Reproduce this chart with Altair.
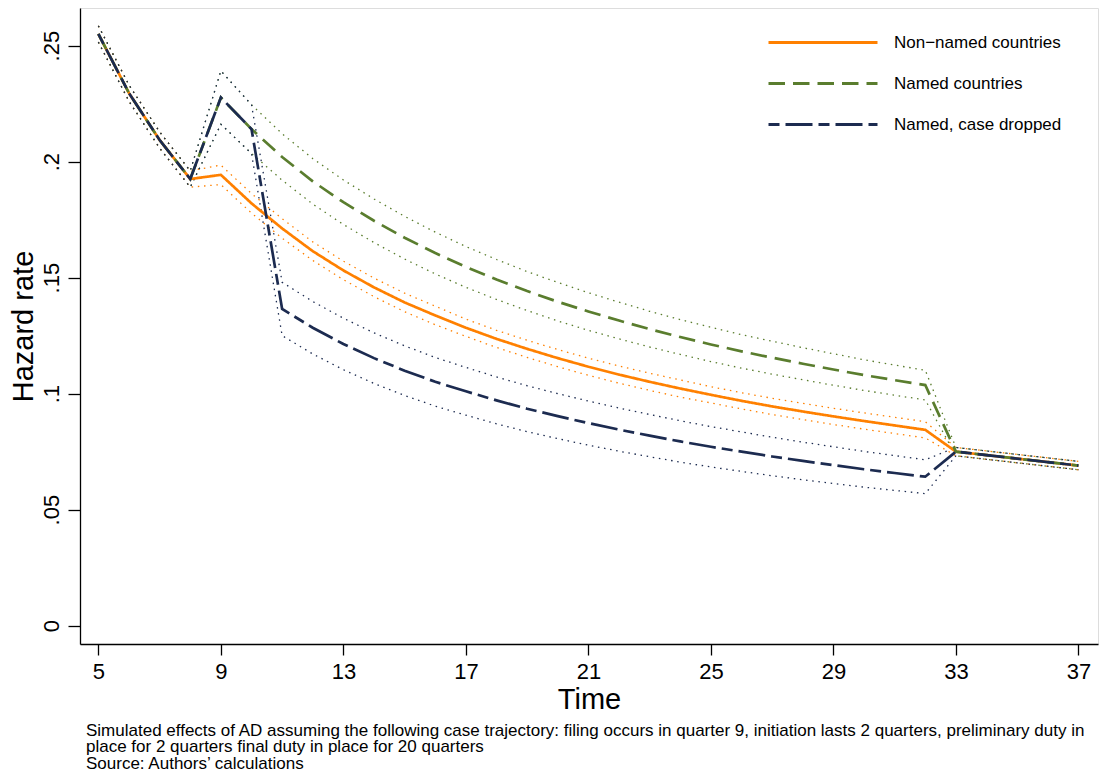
import altair as alt
import pandas as pd

# ---------------- data ----------------
time = [5, 6, 7, 8, 9, 10, 11, 12, 13, 14, 15, 16, 17, 18, 19, 20, 21,
        22, 23, 24, 25, 26, 27, 28, 29, 30, 31, 32, 33, 34, 35, 36, 37]

series_names = ["Non\u2212named countries", "Named countries", "Named, case dropped"]

nonnamed = [0.2550, 0.2295, 0.2093, 0.1925, 0.1943, 0.1820, 0.1712, 0.1614, 0.1531,
            0.1458, 0.1393, 0.1337, 0.1284, 0.1236, 0.1193, 0.1153, 0.1116, 0.1082,
            0.1051, 0.1022, 0.0995, 0.0969, 0.0945, 0.0923, 0.0902, 0.0882, 0.0863,
            0.0844, 0.0750, 0.0735, 0.0720, 0.0705, 0.0690]
nonnamed_hi = [0.2585, 0.2330, 0.2128, 0.1960, 0.1985, 0.1862, 0.1754, 0.1654, 0.1571,
               0.1498, 0.1433, 0.1377, 0.1321, 0.1273, 0.1230, 0.1190, 0.1153, 0.1119,
               0.1088, 0.1059, 0.1030, 0.1004, 0.0980, 0.0958, 0.0937, 0.0917, 0.0898,
               0.0879, 0.0768, 0.0753, 0.0738, 0.0723, 0.0708]
nonnamed_lo = [0.2515, 0.2260, 0.2058, 0.1890, 0.1901, 0.1778, 0.1670, 0.1574, 0.1491,
               0.1418, 0.1353, 0.1297, 0.1247, 0.1199, 0.1156, 0.1116, 0.1079, 0.1045,
               0.1014, 0.0985, 0.0960, 0.0934, 0.0910, 0.0888, 0.0867, 0.0847, 0.0828,
               0.0809, 0.0732, 0.0717, 0.0702, 0.0687, 0.0672]

named = [0.2550, 0.2295, 0.2093, 0.1925, 0.2276, 0.2140, 0.2020, 0.1915, 0.1825,
         0.1745, 0.1672, 0.1606, 0.1546, 0.1492, 0.1442, 0.1396, 0.1354, 0.1315,
         0.1278, 0.1244, 0.1212, 0.1182, 0.1155, 0.1129, 0.1104, 0.1080, 0.1058,
         0.1037, 0.0750, 0.0735, 0.0720, 0.0705, 0.0690]
named_hi = [0.2585, 0.2330, 0.2128, 0.1960, 0.2391, 0.2245, 0.2120, 0.2013, 0.1921,
            0.1839, 0.1764, 0.1696, 0.1634, 0.1578, 0.1526, 0.1479, 0.1435, 0.1394,
            0.1355, 0.1319, 0.1286, 0.1254, 0.1226, 0.1198, 0.1172, 0.1146, 0.1123,
            0.1101, 0.0768, 0.0753, 0.0738, 0.0723, 0.0708]
named_lo = [0.2515, 0.2260, 0.2058, 0.1890, 0.2161, 0.2035, 0.1920, 0.1817, 0.1729,
            0.1651, 0.1580, 0.1516, 0.1458, 0.1406, 0.1358, 0.1313, 0.1273, 0.1236,
            0.1201, 0.1169, 0.1138, 0.1110, 0.1084, 0.1060, 0.1036, 0.1014, 0.0993,
            0.0973, 0.0732, 0.0717, 0.0702, 0.0687, 0.0672]

dropped = [0.2550, 0.2295, 0.2093, 0.1925, 0.2276, 0.2140, 0.1365, 0.1284, 0.1214,
           0.1153, 0.1099, 0.1051, 0.1010, 0.0971, 0.0935, 0.0903, 0.0873, 0.0845,
           0.0819, 0.0794, 0.0771, 0.0750, 0.0729, 0.0710, 0.0692, 0.0674, 0.0658,
           0.0642, 0.0750, 0.0735, 0.0720, 0.0705, 0.0690]
dropped_hi = [0.2585, 0.2330, 0.2128, 0.1960, 0.2391, 0.2245, 0.1480, 0.1397, 0.1325,
              0.1262, 0.1206, 0.1156, 0.1113, 0.1072, 0.1034, 0.1000, 0.0968, 0.0938,
              0.0910, 0.0883, 0.0858, 0.0835, 0.0812, 0.0791, 0.0771, 0.0751, 0.0733,
              0.0715, 0.0768, 0.0753, 0.0738, 0.0723, 0.0708]
dropped_lo = [0.2515, 0.2260, 0.2058, 0.1890, 0.2161, 0.2035, 0.1250, 0.1171, 0.1103,
              0.1044, 0.0992, 0.0946, 0.0907, 0.0870, 0.0836, 0.0806, 0.0778, 0.0752,
              0.0728, 0.0705, 0.0684, 0.0665, 0.0646, 0.0629, 0.0613, 0.0597, 0.0583,
              0.0569, 0.0732, 0.0717, 0.0702, 0.0687, 0.0672]

x_ticks = [5, 9, 13, 17, 21, 25, 29, 33, 37]
y_ticks = [0, 0.05, 0.1, 0.15, 0.2, 0.25]
y_tick_labels = ["0", ".05", ".1", ".15", ".2", ".25"]

footnote = [
    "Simulated effects of AD assuming the following case trajectory: filing occurs in quarter 9, initiation lasts 2 quarters, preliminary duty in",
    "place for 2 quarters final duty in place for 20 quarters",
    "Source: Authors\u2019 calculations",
]

# ---------------- tables ----------------
values = {series_names[0]: nonnamed, series_names[1]: named, series_names[2]: dropped}
his = {series_names[0]: nonnamed_hi, series_names[1]: named_hi, series_names[2]: dropped_hi}
los = {series_names[0]: nonnamed_lo, series_names[1]: named_lo, series_names[2]: dropped_lo}

main_rows, ci_rows = [], []
for s in series_names:
    for i, t in enumerate(time):
        main_rows.append({"time": t, "series": s, "value": values[s][i]})
        ci_rows.append({"time": t, "series": s, "band": "hi", "value": his[s][i]})
        ci_rows.append({"time": t, "series": s, "band": "lo", "value": los[s][i]})
main_df = pd.DataFrame(main_rows)
ci_df = pd.DataFrame(ci_rows)

# ---------------- styling ----------------
FONT = "Liberation Sans"
colors = ["#ff8000", "#5a7d2e", "#1c2b50"]
dashes = [[1, 0], [16.5, 8], [11, 6, 27, 6]]

label_expr = "[" + ",".join("'%s'" % l for l in y_tick_labels) + "][indexof([" + \
    ",".join(str(v) for v in y_ticks) + "], datum.value)]"

x_enc = alt.X(
    "time:Q",
    scale=alt.Scale(domain=[4.40, 37.64], nice=False, zero=False),
    axis=alt.Axis(
        values=x_ticks, title="Time", grid=False,
        labelFont=FONT, labelFontSize=22, labelColor="black",
        labelBaseline="alphabetic", labelPadding=23, labelFlush=False,
        labelOverlap=False,
        tickSize=11, tickWidth=1.3, tickColor="black",
        domainColor="black", domainWidth=1.3,
        titleFont=FONT, titleFontSize=29, titleFontWeight="normal",
        titleColor="black", titleBaseline="alphabetic", titleY=64,
    ),
)
y_enc = alt.Y(
    "value:Q",
    scale=alt.Scale(domain=[-0.0079, 0.2662], nice=False, zero=False),
    axis=alt.Axis(
        values=y_ticks, labelExpr=label_expr, grid=False,
        labelFont=FONT, labelFontSize=22, labelColor="black",
        labelAngle=-90, labelAlign="center", labelBaseline="alphabetic",
        labelPadding=10, labelFlush=False, labelOverlap=False,
        tickSize=12, tickWidth=1.3, tickColor="black",
        domainColor="black", domainWidth=1.3,
        title="Hazard rate", titleFont=FONT, titleFontSize=29,
        titleFontWeight="normal", titleColor="black", titleAngle=270,
        titleBaseline="alphabetic", titleX=-48,
    ),
)

legend = alt.Legend(
    title=None, orient="none", legendX=687, legendY=14,
    symbolType="stroke", symbolSize=11881, symbolStrokeWidth=2.8,
    labelFont=FONT, labelFontSize=17, labelColor="black", labelOffset=15,
    labelLimit=0, rowPadding=0, clipHeight=41, padding=0,
)
color_enc = alt.Color("series:N", scale=alt.Scale(domain=series_names, range=colors), legend=legend)
dash_enc = alt.StrokeDash("series:N", scale=alt.Scale(domain=series_names, range=dashes), legend=legend)

layers = []
for s in series_names:
    layers.append(
        alt.Chart(ci_df)
        .transform_filter(alt.datum.series == s)
        .mark_line(strokeWidth=1.3, strokeDash=[1.5, 4.7])
        .encode(x=x_enc, y=y_enc, color=color_enc, detail="band:N")
    )
for s in series_names:
    layers.append(
        alt.Chart(main_df)
        .transform_filter(alt.datum.series == s)
        .mark_line(strokeWidth=2.7)
        .encode(x=x_enc, y=y_enc, color=color_enc, strokeDash=dash_enc)
    )

chart = (
    alt.layer(*layers)
    .properties(
        width=1018, height=636,
        autosize=alt.AutoSizeParams(type="none"),
        padding={"left": 72, "top": 0, "right": 9, "bottom": 128},
        title=alt.TitleParams(
            text=footnote, orient="bottom", anchor="start", frame="group",
            font=FONT, fontSize=17, fontWeight="normal", color="black",
            baseline="top", lineHeight=16.3, dx=6, offset=9,
        ),
    )
    .configure_view(stroke="black", strokeWidth=1.3)
    .configure(background="white")
)

chart.save("out.html", embed_options={"renderer": "svg", "actions": False})
